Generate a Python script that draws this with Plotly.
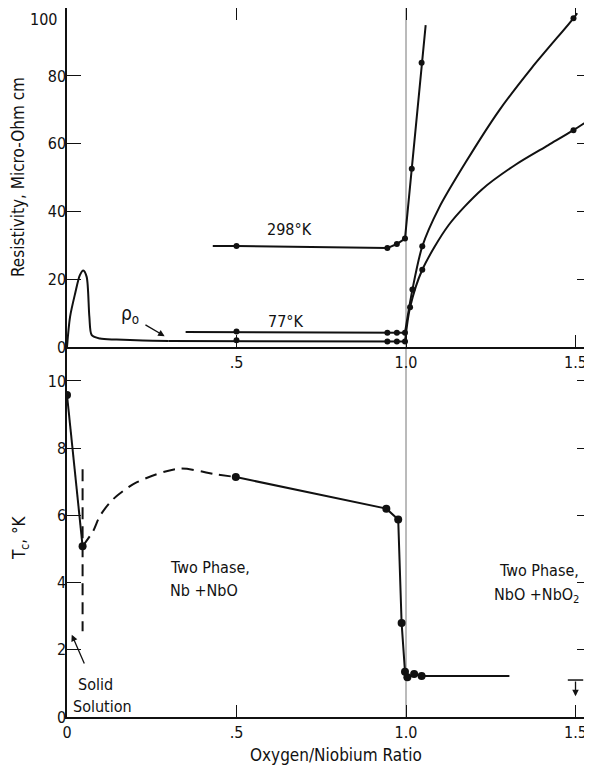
import plotly.graph_objects as go

# ---------------- data ----------------
# Top panel: resistivity, micro-ohm cm vs O/Nb ratio
rho0_peak_x = [0.0, 0.009, 0.024, 0.038, 0.048, 0.058, 0.066, 0.073, 0.097, 0.146, 0.224, 0.30]
rho0_peak_y = [0.0, 8.9, 15.8, 21.2, 22.6, 20.7, 8.9, 3.5, 2.5, 2.2, 1.9, 1.8]
rho0_flat_x = [0.30, 0.5, 0.945, 0.973, 0.997]
rho0_flat_y = [1.8, 1.8, 1.6, 1.6, 1.6]
rho0_rise_x = [0.997, 1.012, 1.048, 1.126, 1.224, 1.323, 1.42, 1.494, 1.545]
rho0_rise_y = [1.6, 11.7, 22.8, 36.0, 46.5, 53.8, 59.6, 64.0, 67.3]
rho0_pts_x = [0.5, 0.945, 0.973, 0.997, 1.012, 1.048, 1.494]
rho0_pts_y = [2.0, 1.6, 1.6, 1.6, 11.7, 22.8, 64.0]

k77_flat_x = [0.35, 0.5, 0.945, 0.973, 0.997]
k77_flat_y = [4.4, 4.4, 4.2, 4.2, 4.2]
k77_rise_x = [0.997, 1.019, 1.048, 1.097, 1.176, 1.274, 1.371, 1.494, 1.505]
k77_rise_y = [4.2, 17.0, 29.7, 41.0, 54.5, 69.7, 82.4, 97.0, 98.5]
k77_pts_x = [0.5, 0.945, 0.973, 0.997, 1.019, 1.048, 1.494]
k77_pts_y = [4.6, 4.2, 4.2, 4.2, 17.0, 29.7, 97.0]

k298_x = [0.43, 0.5, 0.945, 0.973, 0.997, 1.017, 1.046, 1.058]
k298_y = [29.8, 29.8, 29.2, 30.4, 32.0, 52.6, 83.9, 95.0]
k298_pts_x = [0.5, 0.945, 0.973, 0.997, 1.017, 1.046]
k298_pts_y = [29.8, 29.2, 30.4, 32.0, 52.6, 83.9]

# Bottom panel: Tc, K vs O/Nb ratio
tc_solid1_x = [0.0, 0.04, 0.046]
tc_solid1_y = [9.58, 5.8, 5.08]
tc_dash_x = [0.046, 0.077, 0.097, 0.136, 0.205, 0.33, 0.44, 0.498]
tc_dash_y = [5.08, 5.53, 5.98, 6.48, 6.98, 7.39, 7.22, 7.14]
tc_solid2_x = [0.498, 0.942, 0.977, 0.987, 0.997, 1.004, 1.024, 1.046, 1.305]
tc_solid2_y = [7.14, 6.2, 5.88, 2.8, 1.35, 1.18, 1.28, 1.22, 1.22]
tc_pts_x = [0.0, 0.046, 0.498, 0.942, 0.977, 0.987, 0.997, 1.004, 1.024, 1.046]
tc_pts_y = [9.58, 5.08, 7.14, 6.2, 5.88, 2.8, 1.35, 1.18, 1.28, 1.22]
solid_sol_x = [0.046, 0.046]
solid_sol_y = [7.37, 2.55]
limit_x = [1.5]
limit_y = [1.1]

x_ticks = [0, 0.5, 1.0, 1.5]
x_ticktext = ["0", ".5", "1.0", "1.5"]
top_y_ticks = [0, 20, 40, 60, 80, 100]
top_y_ticktext = ["0", "20", "40", "60", "80", "100"]
bot_y_ticks = [0, 2, 4, 6, 8, 10]

FONT = "Liberation Sans Narrow, Arial Narrow, DejaVu Sans Condensed, Liberation Sans, sans-serif"
INK = "#111111"
LW = 2

# page offset of the figure (default body margin) and figure geometry
OFF = 8
FIG_W, FIG_H = 592 - OFF, 767 - OFF
PL, PR = 67 - OFF, 591 - OFF        # plot area left/right in figure px
PT, PB = 0, 717 - OFF               # plot area top/bottom in figure px
PW, PH = PR - PL, PB - PT

def px_x(page_x):
    return (page_x - OFF - PL) / PW

def px_y(page_y):
    return 1 - (page_y - OFF - PT) / PH

fig = go.Figure()

def line(x, y, axis, shape="linear", dash="solid", width=LW):
    xa, ya = ("x", "y") if axis == 1 else ("x2", "y2")
    fig.add_trace(go.Scatter(x=x, y=y, mode="lines", xaxis=xa, yaxis=ya,
                             line=dict(color=INK, width=width, shape=shape, dash=dash,
                                       smoothing=0.8 if shape == "spline" else None),
                             showlegend=False, hoverinfo="skip"))

def pts(x, y, axis, size):
    xa, ya = ("x", "y") if axis == 1 else ("x2", "y2")
    fig.add_trace(go.Scatter(x=x, y=y, mode="markers", xaxis=xa, yaxis=ya,
                             marker=dict(color=INK, size=size), showlegend=False,
                             hoverinfo="skip"))

# top panel
line(rho0_peak_x, rho0_peak_y, 1, "spline")
line(rho0_flat_x, rho0_flat_y, 1)
line(rho0_rise_x, rho0_rise_y, 1, "spline")
pts(rho0_pts_x, rho0_pts_y, 1, 6)
line(k77_flat_x, k77_flat_y, 1)
line(k77_rise_x, k77_rise_y, 1, "spline")
pts(k77_pts_x, k77_pts_y, 1, 6)
line(k298_x, k298_y, 1)
pts(k298_pts_x, k298_pts_y, 1, 6)

# bottom panel
line(tc_solid1_x, tc_solid1_y, 2)
line(tc_dash_x, tc_dash_y, 2, "spline", dash="12px,7px")
line(tc_solid2_x, tc_solid2_y, 2)
pts(tc_pts_x, tc_pts_y, 2, 8)
line(solid_sol_x, solid_sol_y, 2, dash="12px,7px")
fig.add_trace(go.Scatter(x=limit_x, y=limit_y, mode="markers", xaxis="x2", yaxis="y2",
                         marker=dict(symbol="line-ew", size=11,
                                     line=dict(color=INK, width=1.5)),
                         showlegend=False, hoverinfo="skip"))

tick_font = dict(family=FONT, size=16, color=INK)
common_x = dict(range=[0, 1.5457], showline=True, linecolor=INK, linewidth=1.5,
                ticks="inside", ticklen=12, tickcolor=INK, tickwidth=1.3,
                tickvals=x_ticks, ticktext=x_ticktext, showgrid=False, zeroline=False,
                tickfont=tick_font, automargin=False)
common_y = dict(showline=True, linecolor=INK, linewidth=1.5, mirror="ticks",
                ticks="inside", ticklen=14, tickcolor=INK, tickwidth=1.3,
                showgrid=False, zeroline=False, tickfont=tick_font, automargin=False,
                ticklabelstandoff=-4)

split = (717 - 347) / (717 - 8)
fig.update_layout(
    template="none",
    width=FIG_W, height=FIG_H,
    margin=dict(l=PL, r=FIG_W - PR, t=PT, b=FIG_H - PB, pad=0, autoexpand=False),
    paper_bgcolor="white", plot_bgcolor="white",
    font=dict(family=FONT, color=INK),
    xaxis=dict(common_x, anchor="y", domain=[0, 1], mirror="ticks",
               tickvals=[0.5, 1.0, 1.5], ticktext=[".5", "1.0", "1.5"]),
    # the top label "100" would spill past the page top, so it is drawn as text below
    yaxis=dict(common_y, domain=[split, 1], range=[0, 100.05], tickvals=top_y_ticks,
               ticktext=top_y_ticktext[:-1] + [""], anchor="x"),
    xaxis2=dict(common_x, anchor="y2", domain=[0, 1]),
    yaxis2=dict(common_y, domain=[0, split], range=[0, 11.01], tickvals=bot_y_ticks,
                anchor="x2"),
    shapes=[
        dict(type="line", xref="x", yref="paper", x0=1.0, x1=1.0, y0=0, y1=1,
             line=dict(color="#777777", width=1), layer="below"),
    ],
)

ann_font = dict(family=FONT, size=16, color=INK)
C = dict(xanchor="center", yanchor="middle")
anns = [
    dict(x=px_x(59), y=top_y_ticks[-1], xref="paper", yref="y", text=top_y_ticktext[-1],
         showarrow=False, xanchor="right", yanchor="top", font=tick_font),
    dict(x=0.656, y=34.6, xref="x", yref="y", text="298°K", showarrow=False, font=ann_font, **C),
    dict(x=0.645, y=7.4, xref="x", yref="y", text="77°K", showarrow=False, font=ann_font, **C),
    dict(x=0.185, y=9.6, xref="x", yref="y", text="ρ<sub>o</sub>", showarrow=False,
         font=dict(family=FONT, size=19, color=INK), **C),
    dict(x=0.288, y=3.2, ax=0.227, ay=6.8, xref="x", yref="y", axref="x", ayref="y",
         text="", showarrow=True, arrowhead=2, arrowsize=1, arrowwidth=1.3, arrowcolor=INK),
    dict(x=0.297, y=4.45, xref="x2", yref="y2", text="Two Phase,", showarrow=False,
         xanchor="left", yanchor="middle", font=ann_font),
    dict(x=0.297, y=3.76, xref="x2", yref="y2", text="Nb +NbO", showarrow=False,
         xanchor="left", yanchor="middle", font=ann_font),
    dict(x=1.515, y=4.36, xref="x2", yref="y2", text="Two Phase,", showarrow=False,
         xanchor="right", yanchor="middle", font=ann_font),
    dict(x=1.518, y=3.62, xref="x2", yref="y2", text="NbO +NbO<sub>2</sub>", showarrow=False,
         xanchor="right", yanchor="middle", font=ann_font),
    dict(x=0.083, y=0.96, xref="x2", yref="y2", text="Solid", showarrow=False,
         font=ann_font, **C),
    dict(x=0.104, y=0.30, xref="x2", yref="y2", text="Solution", showarrow=False,
         font=ann_font, **C),
    dict(x=0.014, y=2.45, ax=0.053, ay=1.55, xref="x2", yref="y2", axref="x2", ayref="y2",
         text="", showarrow=True, arrowhead=2, arrowsize=1, arrowwidth=1.3, arrowcolor=INK),
    dict(x=limit_x[0], y=0.62, ax=limit_x[0], ay=limit_y[0], xref="x2", yref="y2",
         axref="x2", ayref="y2", text="", showarrow=True, arrowhead=2, arrowsize=1,
         arrowwidth=1.3, arrowcolor=INK),
    # axis titles
    dict(x=px_x(18.5), y=px_y(177.5), xref="paper", yref="paper",
         text="Resistivity, Micro-Ohm cm", textangle=-90, showarrow=False,
         font=dict(family=FONT, size=17, color=INK), **C),
    dict(x=px_x(20), y=px_y(538), xref="paper", yref="paper",
         text="T<sub>c</sub>, °K", textangle=-90, showarrow=False,
         font=dict(family=FONT, size=17, color=INK), **C),
    dict(x=px_x(335.5), y=px_y(755), xref="paper", yref="paper",
         text="Oxygen/Niobium Ratio", showarrow=False,
         font=dict(family=FONT, size=17, color=INK), **C),
]
fig.update_layout(annotations=anns)

fig.write_html("out.html")
